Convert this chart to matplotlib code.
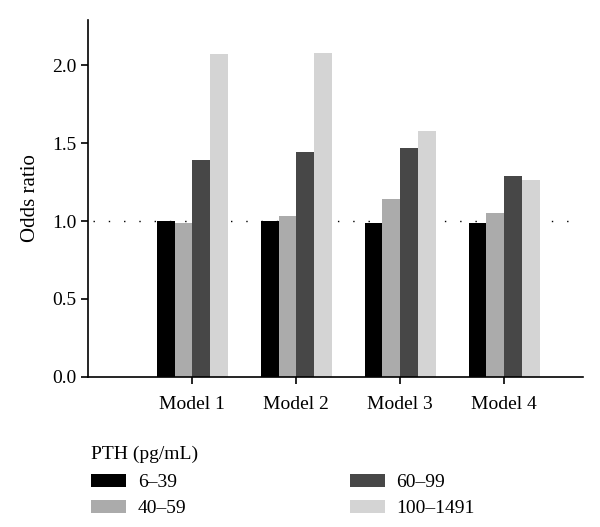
import numpy as np
import matplotlib.pyplot as plt

models = ['Model 1', 'Model 2', 'Model 3', 'Model 4']
pth_groups = ['6–39', '40–59', '60–99', '100–1491']
or_6_39 = [1.00, 1.00, 0.99, 0.99]
or_40_59 = [0.99, 1.03, 1.14, 1.05]
or_60_99 = [1.39, 1.44, 1.47, 1.29]
or_100_1491 = [2.07, 2.08, 1.58, 1.26]
colors = ['#000000', '#ababab', '#474747', '#d4d4d4']

plt.rcParams['font.family'] = ['Liberation Serif', 'DejaVu Serif']

fig = plt.figure(figsize=(6, 5.27), dpi=100)
ax = fig.add_axes([0.147, 0.285, 0.825, 0.677])

x = np.arange(len(models))
w = 0.17
series = [or_6_39, or_40_59, or_60_99, or_100_1491]
for i, vals in enumerate(series):
    ax.bar(x + (i - 1.5) * w, vals, width=w, color=colors[i],
           linewidth=0, label=pth_groups[i], zorder=2)

# reference line at OR = 1
ax.axhline(1.0, xmin=0.01, xmax=0.99, color='black', linewidth=1,
           linestyle=(0, (1, 10)), zorder=1)

ax.set_xlim(-1, 3.76)
ax.set_ylim(0, 2.29)
ax.set_yticks([0, 0.5, 1.0, 1.5, 2.0])
ax.set_yticklabels(['0.0', '0.5', '1.0', '1.5', '2.0'])
ax.set_xticks(x)
ax.set_xticklabels(models)
ax.set_ylabel('Odds ratio', fontsize=15, labelpad=9)
ax.tick_params(labelsize=14, direction='out', length=5, width=1.2)
ax.tick_params(axis='x', pad=9)
for s in ['top', 'right']:
    ax.spines[s].set_visible(False)
for s in ['left', 'bottom']:
    ax.spines[s].set_linewidth(1.2)

leg = ax.legend(loc='upper left', bbox_to_anchor=(-0.01, -0.17), ncol=2,
                frameon=False, fontsize=14, title='PTH (pg/mL)',
                title_fontsize=14, alignment='left', handlelength=1.8,
                handleheight=0.65, columnspacing=8.4, labelspacing=0.45,
                handletextpad=0.6, borderaxespad=0)
leg._legend_box.sep = 8

fig.savefig('out.png', dpi=100)
